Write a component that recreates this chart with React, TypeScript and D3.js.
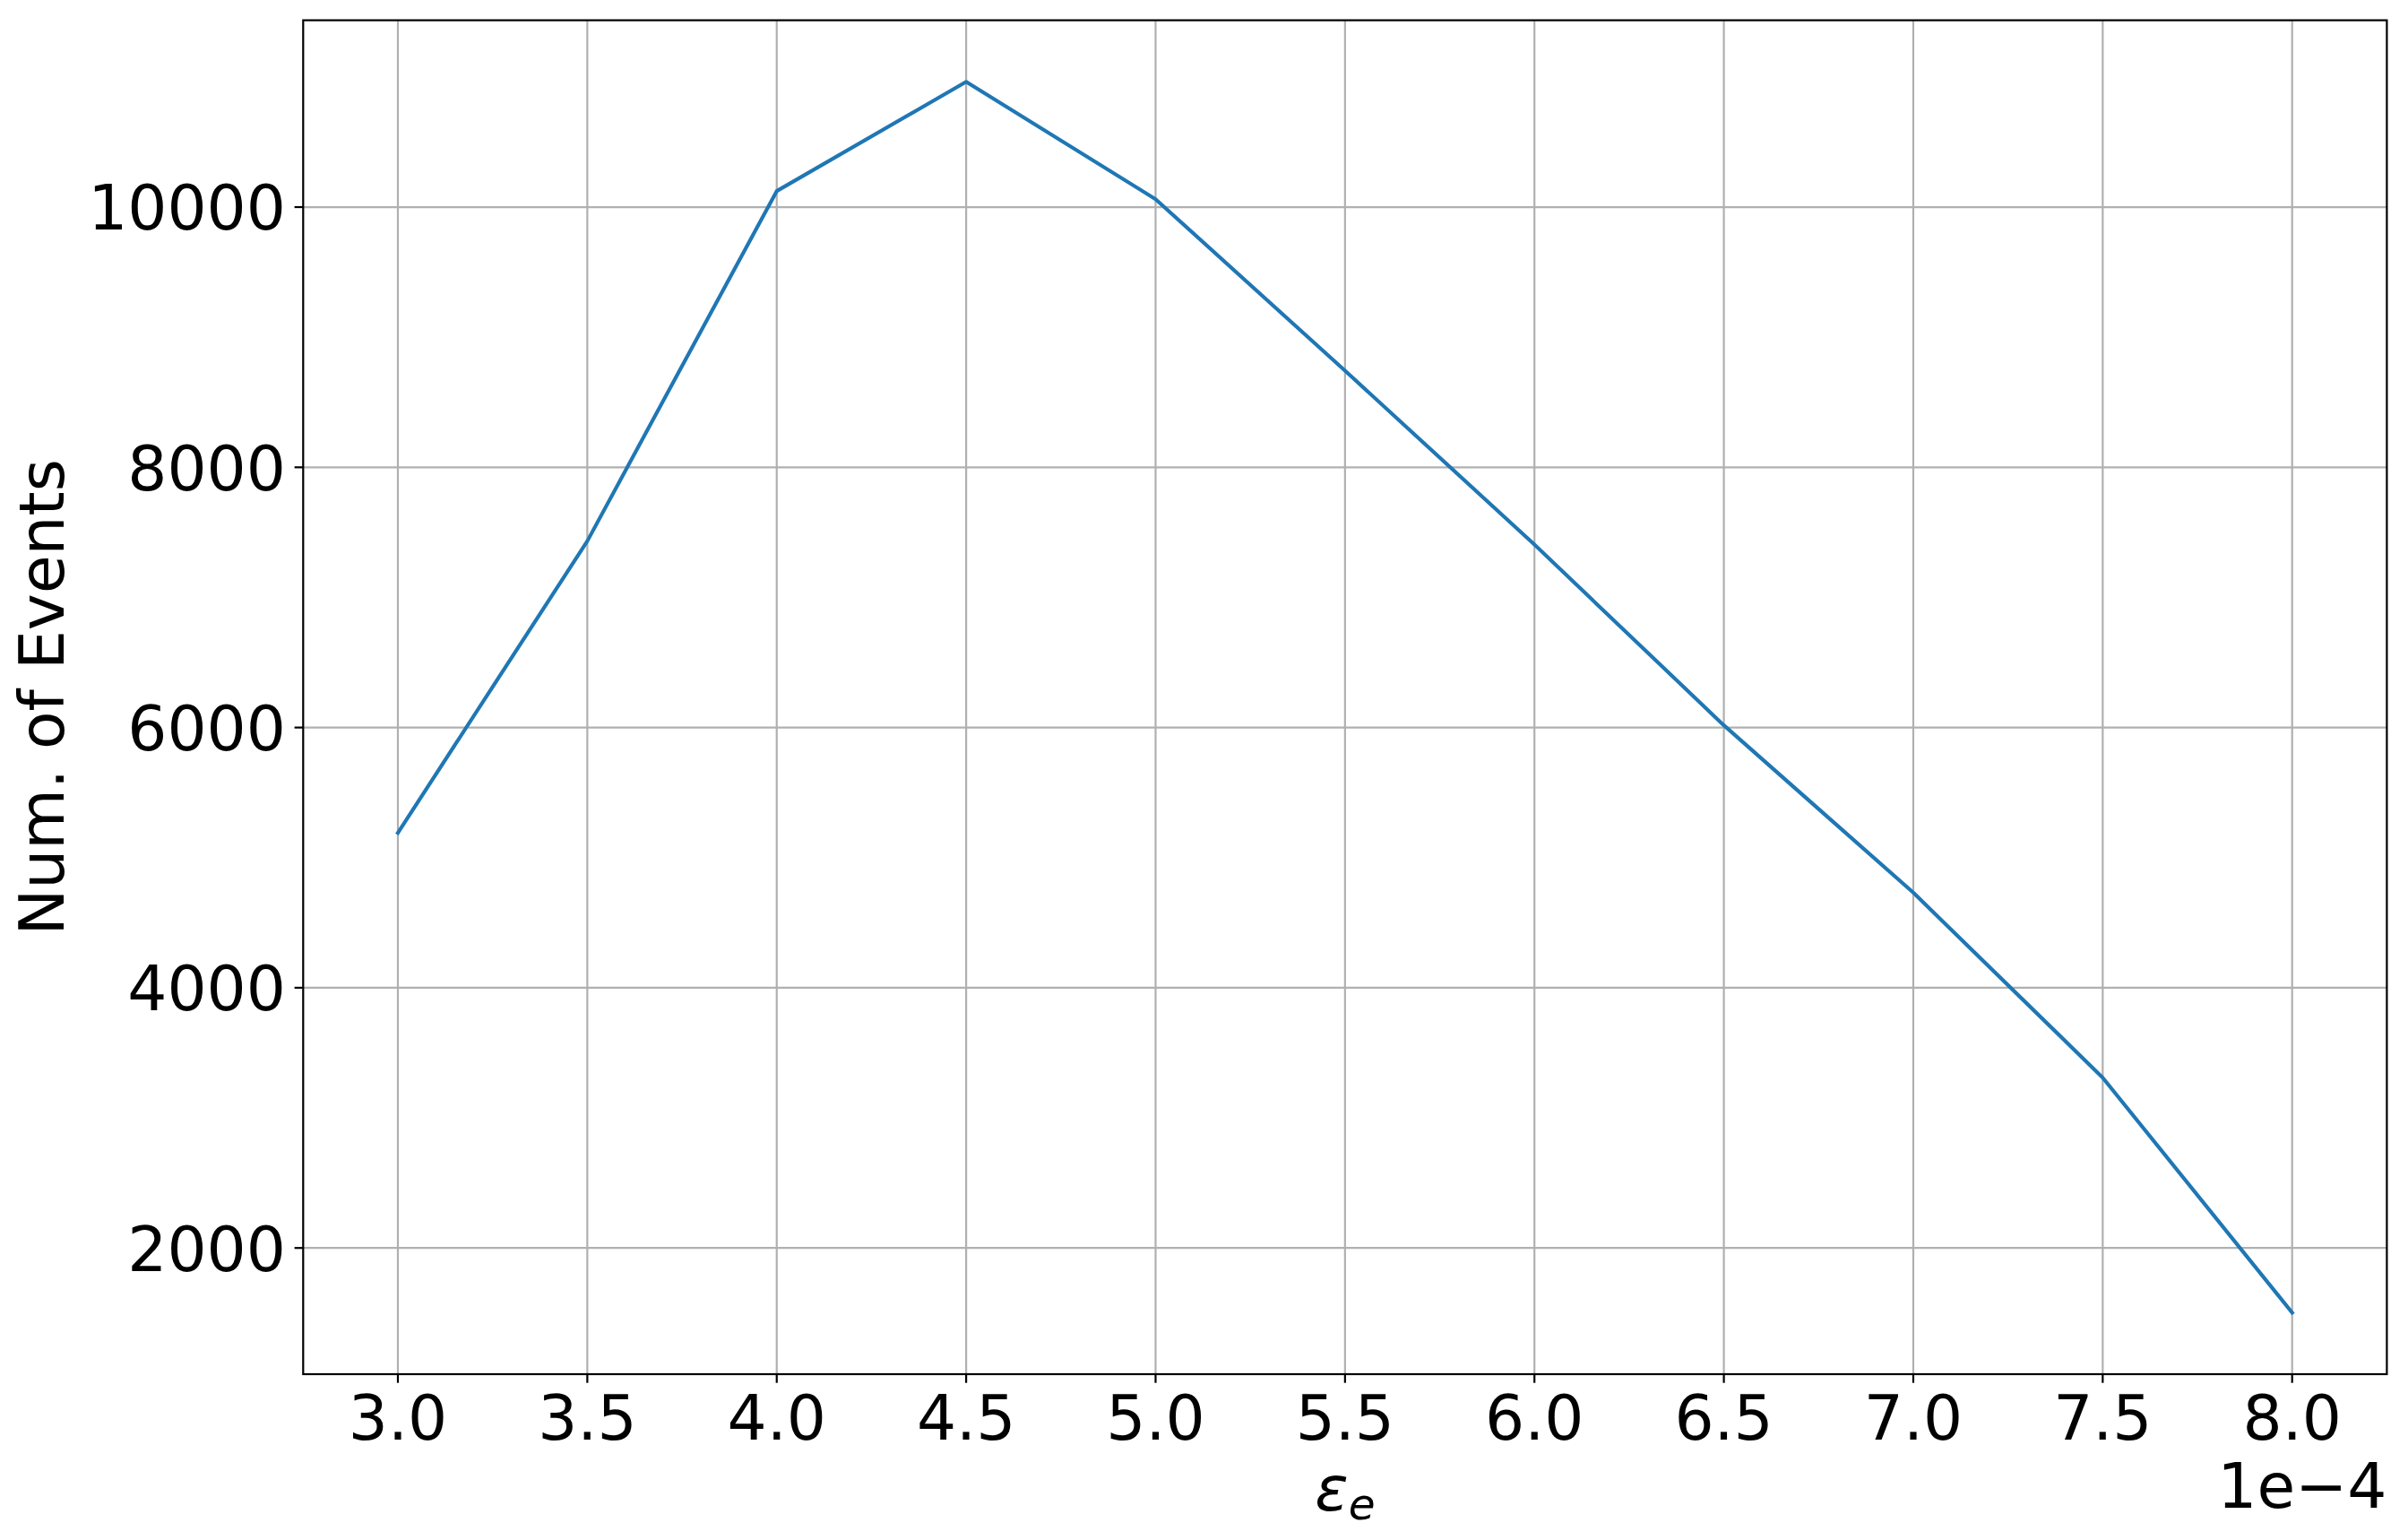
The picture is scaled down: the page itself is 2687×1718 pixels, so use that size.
import React from 'react';
import * as d3 from 'd3';

const xValues: number[] = [3.0, 3.5, 4.0, 4.5, 5.0, 5.5, 6.0, 6.5, 7.0, 7.5, 8.0];
const eventCounts: number[] = [5191, 7433, 10123, 10963, 10061, 8743, 7406, 6017, 4731, 3309, 1503];
const xTicks: number[] = [3.0, 3.5, 4.0, 4.5, 5.0, 5.5, 6.0, 6.5, 7.0, 7.5, 8.0];
const yTicks: number[] = [2000, 4000, 6000, 8000, 10000];
const yLabel = 'Num. of Events';
const offsetLabel = '1e\u22124';

const W = 2687;
const H = 1718;
const M = { left: 338.3, right: 2663.4, top: 22.6, bottom: 1533 };
const FS = 69.4;
const TICK = 9.7;
const PAD = 9.7;
const FONT = '"DejaVu Sans", sans-serif';

export default function App() {
  const xr = d3.extent(xValues) as [number, number];
  const yr = d3.extent(eventCounts) as [number, number];
  const xm = (xr[1] - xr[0]) * 0.05;
  const ym = (yr[1] - yr[0]) * 0.05;
  const x = d3.scaleLinear().domain([xr[0] - xm, xr[1] + xm]).range([M.left, M.right]);
  const y = d3.scaleLinear().domain([yr[0] - ym, yr[1] + ym]).range([M.bottom, M.top]);
  const line = d3
    .line<number>()
    .x((_, i) => x(xValues[i]))
    .y((d) => y(d))
    .curve(d3.curveLinear);

  const cx = (M.left + M.right) / 2;
  const cy = (M.top + M.bottom) / 2;

  return (
    <svg
      width={W}
      height={H}
      style={{ position: 'absolute', left: 0, top: 0, background: '#fff' }}
      fontFamily={FONT}
    >
      <rect x={0} y={0} width={W} height={H} fill="#fff" />
      <g>
        {xTicks.map((t) => (
          <line key={'gx' + t} x1={x(t)} x2={x(t)} y1={M.top} y2={M.bottom} stroke="#b0b0b0" strokeWidth={2.2} />
        ))}
        {yTicks.map((t) => (
          <line key={'gy' + t} x1={M.left} x2={M.right} y1={y(t)} y2={y(t)} stroke="#b0b0b0" strokeWidth={2.2} />
        ))}
      </g>
      <path
        d={line(eventCounts) || ''}
        fill="none"
        stroke="#1f77b4"
        strokeWidth={4.17}
        strokeLinejoin="round"
        strokeLinecap="square"
      />
      <rect
        x={M.left}
        y={M.top}
        width={M.right - M.left}
        height={M.bottom - M.top}
        fill="none"
        stroke="#000"
        strokeWidth={2.2}
      />
      {xTicks.map((t) => (
        <g key={'tx' + t}>
          <line x1={x(t)} x2={x(t)} y1={M.bottom} y2={M.bottom + TICK} stroke="#000" strokeWidth={2.2} />
          <text x={x(t)} y={1606} fontSize={FS} textAnchor="middle" fill="#000">
            {t.toFixed(1)}
          </text>
        </g>
      ))}
      {yTicks.map((t) => (
        <g key={'ty' + t}>
          <line x1={M.left - TICK} x2={M.left} y1={y(t)} y2={y(t)} stroke="#000" strokeWidth={2.2} />
          <text x={M.left - TICK - PAD} y={y(t) + 0.3645 * FS} fontSize={FS} textAnchor="end" fill="#000">
            {t}
          </text>
        </g>
      ))}
      <text x={M.right} y={1682} fontSize={FS} textAnchor="end" fill="#000">
        {offsetLabel}
      </text>
      <text x={cx} y={1685} fontSize={FS} textAnchor="middle" fill="#000">
        <tspan fontStyle="italic">ε</tspan>
        <tspan fontStyle="italic" fontSize={FS * 0.7} dy={10}>e</tspan>
      </text>
      <text
        transform={`translate(71,${cy}) rotate(-90)`}
        fontSize={FS}
        textAnchor="middle"
        fill="#000"
      >
        {yLabel}
      </text>
    </svg>
  );
}
